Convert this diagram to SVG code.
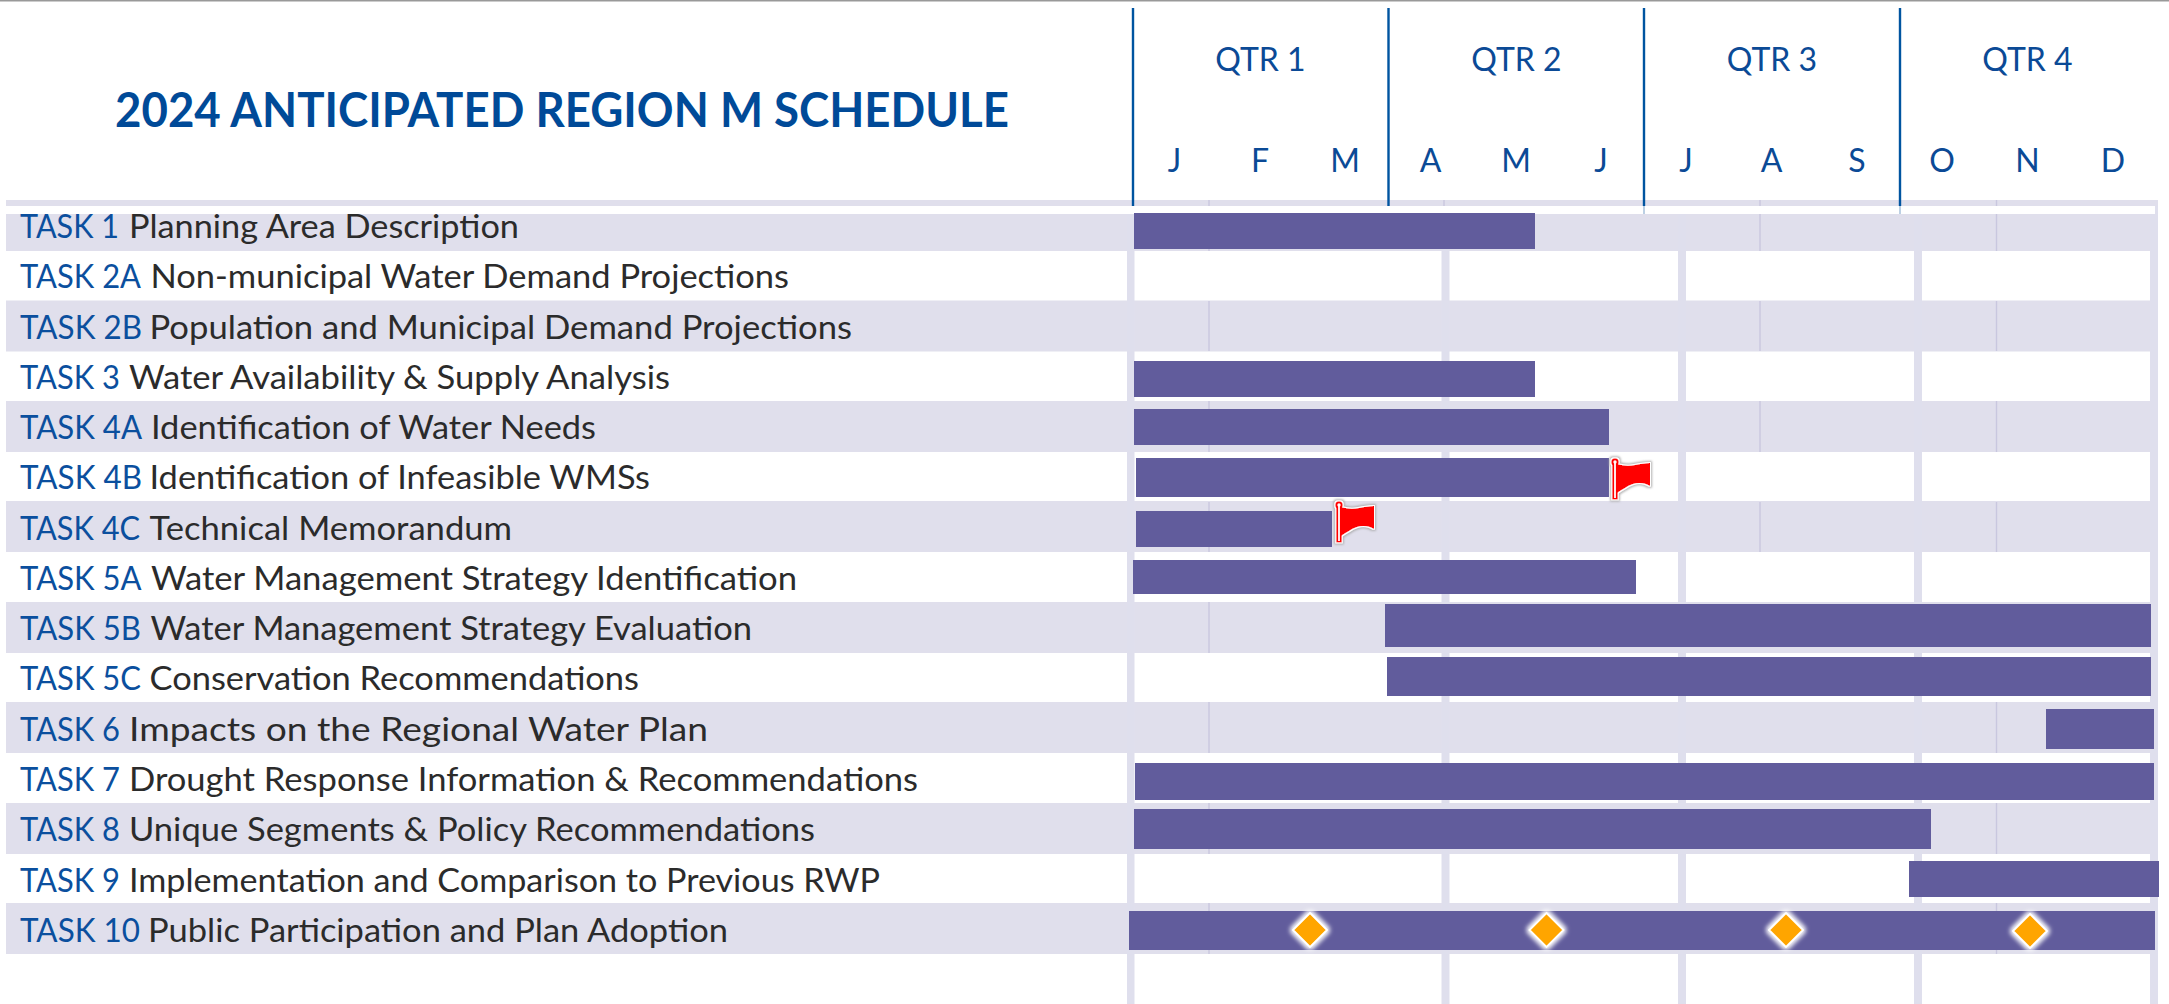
<svg xmlns="http://www.w3.org/2000/svg" width="2169" height="1004" viewBox="0 0 2169 1004">
<defs>
<style>
text{font-family:"Lato","Carlito","Liberation Sans",sans-serif}
.band{fill:#E0DFEC}
.col{fill:#DFDFED}
.tick{stroke:#C9C7DF;stroke-width:1.4}
.q{stroke:#0054A0;stroke-width:2.4}
.bar{fill:#615C9C}
.t{font-size:33px;fill:#0B4F9E}
.d{font-size:33px;fill:#2B2B2B}
.h{font-size:32px;fill:#0B4A96;text-anchor:middle}
.title{font-size:47px;font-weight:700;fill:#004A98}
.dia{fill:#FFA500;stroke:#fff;stroke-width:1.8;filter:url(#glow)}
.red{fill:#FF0000}
</style>
<filter id="glow" x="-50%" y="-50%" width="200%" height="200%"><feMorphology in="SourceAlpha" operator="dilate" radius="1.500" result="m"/><feGaussianBlur in="m" stdDeviation="2.200" result="b"/><feFlood flood-color="#fff" flood-opacity="0.95"/><feComposite in2="b" operator="in" result="g"/><feMerge><feMergeNode in="g"/><feMergeNode in="SourceGraphic"/></feMerge></filter>
<filter id="shadow" x="-30%" y="-30%" width="160%" height="160%"><feMorphology in="SourceAlpha" operator="dilate" radius="1.200" result="w"/><feMorphology in="SourceAlpha" operator="dilate" radius="2.200" result="m"/><feGaussianBlur in="m" stdDeviation="1" result="b"/><feFlood flood-color="#A8A8A8" flood-opacity="0.9"/><feComposite in2="b" operator="in" result="g"/><feFlood flood-color="#fff"/><feComposite in2="w" operator="in" result="wo"/><feMerge><feMergeNode in="g"/><feMergeNode in="wo"/><feMergeNode in="SourceGraphic"/></feMerge></filter>
<g id="flagShape" filter="url(#shadow)"><path class="red" d="M2 2C9 4 14 4 20 3C25 2 30 1 35 1V24C30 21 24 20 18 22C12 24 7 28 2 31Z"/><rect class="red" x="-2.800" y="0" width="5.600" height="37.500"/><circle class="red" r="3.800"/><rect x="-0.900" y="1" width="1.800" height="35" fill="#fff"/><circle r="1.700" fill="#fff"/></g>
<path id="dia" class="dia" d="M0-17L17 0 0 17-17 0Z"/>
</defs>
<rect width="2169" height="1004" fill="#fff"/>
<rect width="2169" height="1.500" fill="#999"/>
<g id="grid">
<rect class="band" x="6" y="200" width="2152" height="51"/>
<rect class="band" x="6" y="300.500" width="2152" height="51"/>
<rect class="band" x="6" y="401" width="2152" height="51"/>
<rect class="band" x="6" y="501" width="2152" height="51"/>
<rect class="band" x="6" y="602" width="2152" height="51"/>
<rect class="band" x="6" y="702" width="2152" height="51"/>
<rect class="band" x="6" y="803" width="2152" height="51"/>
<rect class="band" x="6" y="903" width="2152" height="51"/>
<rect class="col" x="1127" y="206" width="7.500" height="798"/>
<rect class="col" x="1441.500" y="206" width="8" height="798"/>
<rect class="col" x="1678" y="206" width="8" height="798"/>
<rect class="col" x="1914" y="206" width="8" height="798"/>
<rect class="col" x="2150" y="206" width="8" height="798"/>
<path class="tick" d="M1209 200V206M1444 200V206M1760 200V206M1996.500 200V206M1209 214V251M1760 214V251M1996.500 214V251M1209 301V351M1760 301V351M1996.500 301V351M1209 401V452M1760 401V452M1996.500 401V452M1209 502V552M1760 502V552M1996.500 502V552M1209 602V653M1209 702V753M1996.500 702V753M1209 803V854M1996.500 803V854M1209 903V954M1996.500 903V954"/>
<rect x="0" y="206" width="2155" height="8" fill="#fff"/>
</g>
<g id="header">
<text class="title" x="115" y="126.500" textLength="894" lengthAdjust="spacingAndGlyphs">2024 ANTICIPATED REGION M SCHEDULE</text>
<path class="q" d="M1133 8V206M1388.500 8V206M1644 8V206M1900 8V206"/>
<path d="M1644 206V214M1900 206V214" stroke="#BCD0E4" stroke-width="2"/>
<text class="h" x="1260.500" y="71">QTR 1</text><text class="h" x="1516.500" y="71">QTR 2</text><text class="h" x="1772" y="71">QTR 3</text><text class="h" x="2027.500" y="71">QTR 4</text>
<text class="h" x="1174.500" y="172">J</text><text class="h" x="1260" y="172">F</text><text class="h" x="1345" y="172">M</text><text class="h" x="1430.500" y="172">A</text><text class="h" x="1516" y="172">M</text><text class="h" x="1601" y="172">J</text><text class="h" x="1686" y="172">J</text><text class="h" x="1771.500" y="172">A</text><text class="h" x="1857" y="172">S</text><text class="h" x="1942" y="172">O</text><text class="h" x="2027.500" y="172">N</text><text class="h" x="2113" y="172">D</text>
</g>
<g id="task-1"><rect class="bar" x="1134" y="213" width="401" height="36"/><text class="t" x="20" y="237.500" textLength="99" lengthAdjust="spacingAndGlyphs">TASK 1</text><text class="d" x="129" y="237.500" textLength="390" lengthAdjust="spacingAndGlyphs">Planning Area Description</text></g>
<g id="task-2a"><text class="t" x="20" y="287.500" textLength="121" lengthAdjust="spacingAndGlyphs">TASK 2A</text><text class="d" x="150.500" y="287.500" textLength="638.500" lengthAdjust="spacingAndGlyphs">Non-municipal Water Demand Projections</text></g>
<g id="task-2b"><text class="t" x="20" y="338.500" textLength="122" lengthAdjust="spacingAndGlyphs">TASK 2B</text><text class="d" x="149.500" y="338.500" textLength="702.500" lengthAdjust="spacingAndGlyphs">Population and Municipal Demand Projections</text></g>
<g id="task-3"><rect class="bar" x="1134" y="361" width="401" height="36"/><text class="t" x="20" y="388.500" textLength="100" lengthAdjust="spacingAndGlyphs">TASK 3</text><text class="d" x="129" y="388.500" textLength="541" lengthAdjust="spacingAndGlyphs">Water Availability &amp; Supply Analysis</text></g>
<g id="task-4a"><rect class="bar" x="1134" y="409" width="475" height="36"/><text class="t" x="20" y="438.500" textLength="122" lengthAdjust="spacingAndGlyphs">TASK 4A</text><text class="d" x="151" y="438.500" textLength="445" lengthAdjust="spacingAndGlyphs">Identification of Water Needs</text></g>
<g id="task-4b"><rect class="bar" x="1136" y="458" width="473" height="39"/><use href="#flagShape" x="1615" y="462"/><text class="t" x="20" y="489" textLength="122" lengthAdjust="spacingAndGlyphs">TASK 4B</text><text class="d" x="149.500" y="489" textLength="500.500" lengthAdjust="spacingAndGlyphs">Identification of Infeasible WMSs</text></g>
<g id="task-4c"><rect class="bar" x="1136" y="511" width="196" height="36"/><use href="#flagShape" x="1339" y="505"/><text class="t" x="20" y="540" textLength="120" lengthAdjust="spacingAndGlyphs">TASK 4C</text><text class="d" x="149.500" y="540" textLength="362.500" lengthAdjust="spacingAndGlyphs">Technical Memorandum</text></g>
<g id="task-5a"><rect class="bar" x="1133" y="560" width="503" height="34"/><text class="t" x="20" y="589.500" textLength="121.500" lengthAdjust="spacingAndGlyphs">TASK 5A</text><text class="d" x="151" y="589.500" textLength="646" lengthAdjust="spacingAndGlyphs">Water Management Strategy Identification</text></g>
<g id="task-5b"><rect class="bar" x="1385" y="604" width="766" height="43"/><text class="t" x="20" y="639.500" textLength="121" lengthAdjust="spacingAndGlyphs">TASK 5B</text><text class="d" x="150.500" y="639.500" textLength="601.500" lengthAdjust="spacingAndGlyphs">Water Management Strategy Evaluation</text></g>
<g id="task-5c"><rect class="bar" x="1387" y="657" width="764" height="39"/><text class="t" x="20" y="690" textLength="121" lengthAdjust="spacingAndGlyphs">TASK 5C</text><text class="d" x="149.500" y="690" textLength="489.500" lengthAdjust="spacingAndGlyphs">Conservation Recommendations</text></g>
<g id="task-6"><rect class="bar" x="2046" y="709" width="108" height="40"/><text class="t" x="20" y="740.500" textLength="100" lengthAdjust="spacingAndGlyphs">TASK 6</text><text class="d" x="129" y="740.500" textLength="579" lengthAdjust="spacingAndGlyphs">Impacts on the Regional Water Plan</text></g>
<g id="task-7"><rect class="bar" x="1135" y="763" width="1019" height="37"/><text class="t" x="20" y="791" textLength="100" lengthAdjust="spacingAndGlyphs">TASK 7</text><text class="d" x="129" y="791" textLength="789" lengthAdjust="spacingAndGlyphs">Drought Response Information &amp; Recommendations</text></g>
<g id="task-8"><rect class="bar" x="1134" y="809" width="797" height="40"/><text class="t" x="20" y="841" textLength="100" lengthAdjust="spacingAndGlyphs">TASK 8</text><text class="d" x="129" y="841" textLength="686" lengthAdjust="spacingAndGlyphs">Unique Segments &amp; Policy Recommendations</text></g>
<g id="task-9"><rect class="bar" x="1909" y="861" width="250" height="36"/><text class="t" x="20" y="891.500" textLength="100" lengthAdjust="spacingAndGlyphs">TASK 9</text><text class="d" x="129" y="891.500" textLength="751" lengthAdjust="spacingAndGlyphs">Implementation and Comparison to Previous RWP</text></g>
<g id="task-10"><rect class="bar" x="1129" y="911" width="1026" height="39"/><use href="#dia" x="1310" y="930"/><use href="#dia" x="1546.500" y="930"/><use href="#dia" x="1786" y="930"/><use href="#dia" x="2030" y="931"/><text class="t" x="20" y="941.500" textLength="120" lengthAdjust="spacingAndGlyphs">TASK 10</text><text class="d" x="148" y="941.500" textLength="580" lengthAdjust="spacingAndGlyphs">Public Participation and Plan Adoption</text></g>
<g id="connectors"/>
</svg>
